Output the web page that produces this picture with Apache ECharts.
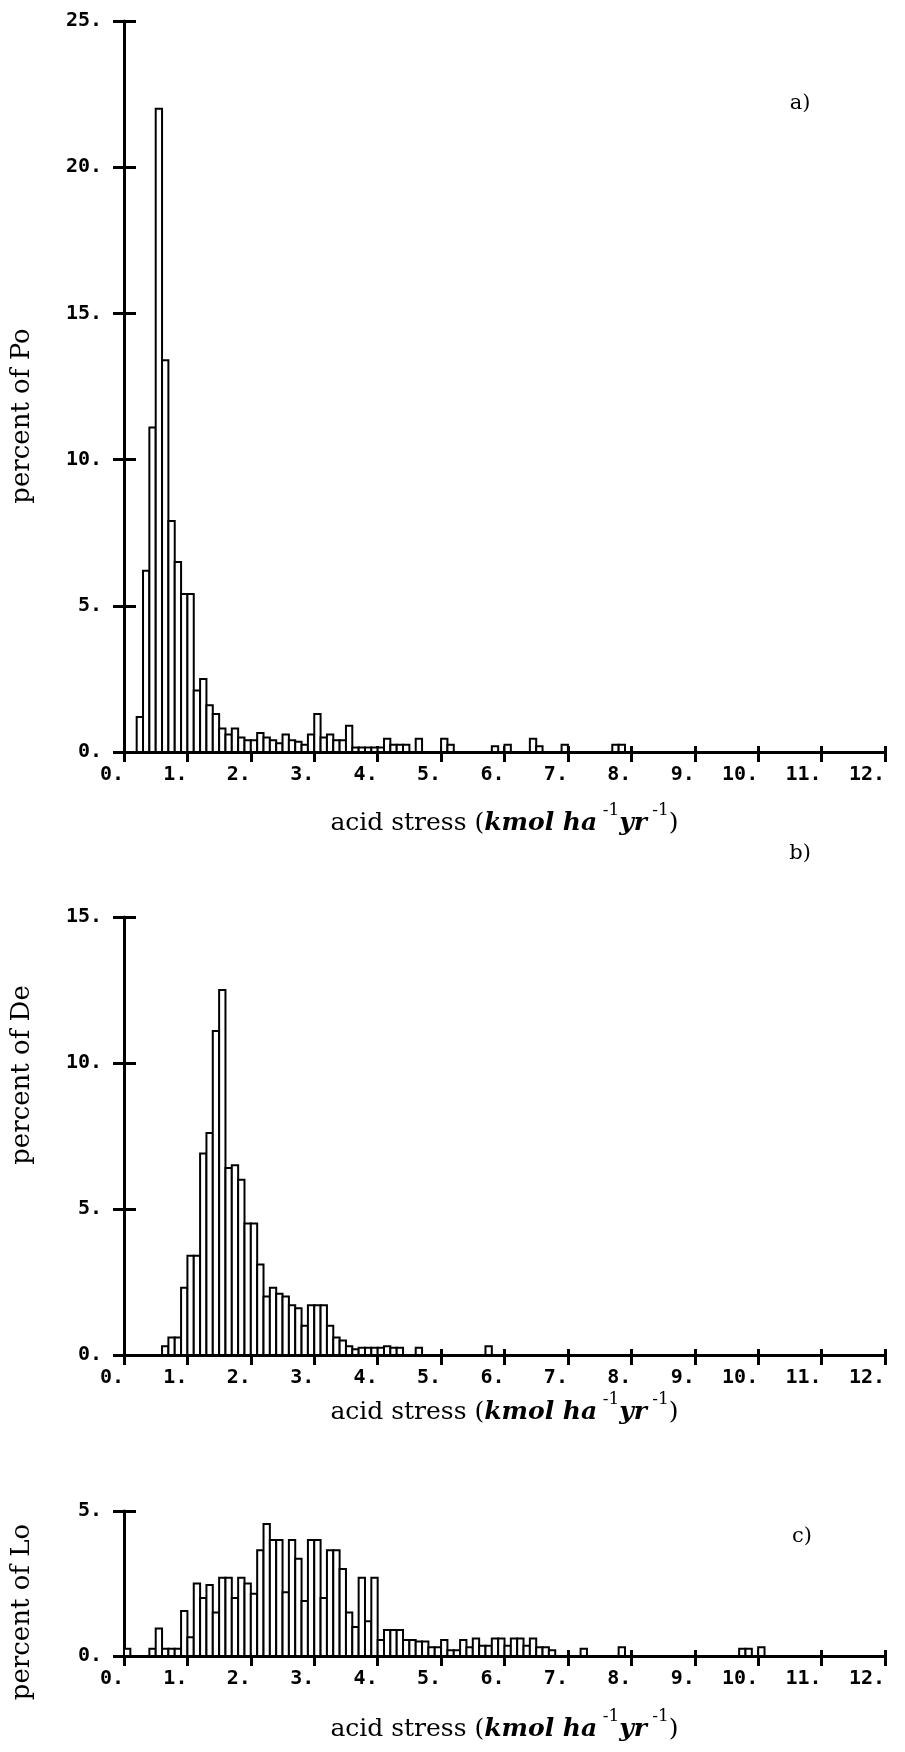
<!DOCTYPE html>
<html><head><meta charset="utf-8">
<script src="https://cdn.jsdelivr.net/npm/echarts@6/dist/echarts.min.js"></script>
<style>html,body{margin:0;padding:0;background:#fff}#c{width:905px;height:1752px}</style>
</head><body><div id="c"></div>
<script>
// ---- data ----
const BIN_WIDTH = 0.1;
const X_MIN = 0, X_MAX = 12, X_STEP = 1;
const xTitle = '{n|acid stress (}{b|kmol ha}{s| -1}{b|yr}{s| -1}{n|)}';
const panelLetters = ['a)', 'b)', 'c)'];
const yNames = ['percent of Po', 'percent of De', 'percent of Lo'];
const yMaxes = [25, 15, 5];
const Y_STEP = 5;

const poBinStart = [0.2,0.3,0.4,0.5,0.6,0.7,0.8,0.9,1.0,1.1,1.2,1.3,1.4,1.5,1.6,1.7,1.8,1.9,2.0,2.1,2.2,2.3,2.4,2.5,2.6,2.7,2.8,2.9,3.0,3.1,3.2,3.3,3.4,3.5,3.6,3.7,3.8,3.9,4.0,4.1,4.2,4.3,4.4,4.6,5.0,5.1,5.8,6.0,6.4,6.5,6.9,7.7,7.8];
const poPercent  = [1.2,6.2,11.1,22.0,13.4,7.9,6.5,5.4,5.4,2.1,2.5,1.6,1.3,0.8,0.6,0.8,0.5,0.4,0.4,0.65,0.5,0.4,0.3,0.6,0.4,0.35,0.25,0.6,1.3,0.5,0.6,0.4,0.4,0.9,0.15,0.15,0.15,0.15,0.15,0.45,0.25,0.25,0.25,0.45,0.45,0.25,0.2,0.25,0.45,0.2,0.25,0.25,0.25];

const deBinStart = [0.6,0.7,0.8,0.9,1.0,1.1,1.2,1.3,1.4,1.5,1.6,1.7,1.8,1.9,2.0,2.1,2.2,2.3,2.4,2.5,2.6,2.7,2.8,2.9,3.0,3.1,3.2,3.3,3.4,3.5,3.6,3.7,3.8,3.9,4.0,4.1,4.2,4.3,4.6,5.7];
const dePercent  = [0.3,0.6,0.6,2.3,3.4,3.4,6.9,7.6,11.1,12.5,6.4,6.5,6.0,4.5,4.5,3.1,2.0,2.3,2.1,2.0,1.7,1.6,1.0,1.7,1.7,1.7,1.0,0.6,0.5,0.3,0.2,0.25,0.25,0.25,0.25,0.3,0.25,0.25,0.25,0.3];

const loBinStart = [0.0,0.4,0.5,0.6,0.7,0.8,0.9,1.0,1.1,1.2,1.3,1.4,1.5,1.6,1.7,1.8,1.9,2.0,2.1,2.2,2.3,2.4,2.5,2.6,2.7,2.8,2.9,3.0,3.1,3.2,3.3,3.4,3.5,3.6,3.7,3.8,3.9,4.0,4.1,4.2,4.3,4.4,4.5,4.6,4.7,4.8,4.9,5.0,5.1,5.2,5.3,5.4,5.5,5.6,5.7,5.8,5.9,6.0,6.1,6.2,6.3,6.4,6.5,6.6,6.7,7.2,7.8,9.7,9.8,10.0];
const loPercent  = [0.25,0.25,0.95,0.25,0.25,0.25,1.55,0.65,2.5,2.0,2.45,1.5,2.7,2.7,2.0,2.7,2.5,2.15,3.65,4.55,4.0,4.0,2.2,4.0,3.35,1.9,4.0,4.0,2.0,3.65,3.65,3.0,1.5,1.0,2.7,1.2,2.7,0.55,0.9,0.9,0.9,0.55,0.55,0.5,0.5,0.3,0.3,0.55,0.2,0.2,0.55,0.3,0.6,0.35,0.35,0.6,0.6,0.35,0.6,0.6,0.35,0.6,0.3,0.3,0.2,0.25,0.3,0.25,0.25,0.3];

// ---- layout / styles ----
const grids = [
  {left: 124, width: 761, top: 21, height: 731},
  {left: 124, width: 761, top: 917, height: 438},
  {left: 124, width: 761, top: 1511, height: 145}
];
const xNameGaps = [50, 36, 52];
const yNamePos = [[22, 416], [22, 1075], [22, 1612]];
const letterPos = [[800, 104], [800, 854], [802, 1537]];
const tickFont = {fontFamily: 'DejaVu Sans Mono', fontWeight: 'bold', fontSize: 20, color: '#000'};
const serif = 'DejaVu Serif';
const AX = {color: '#000', width: 3};

const panels = [[poBinStart, poPercent], [deBinStart, dePercent], [loBinStart, loPercent]];

function renderBin(params, api) {
  const x0 = api.value(0), h = api.value(1);
  const p0 = api.coord([x0, h]);
  const p1 = api.coord([x0 + BIN_WIDTH, 0]);
  return {
    type: 'rect',
    shape: {x: p0[0], y: p0[1], width: p1[0] - p0[0], height: p1[1] - p0[1]},
    style: {fill: '#fff', stroke: '#000', lineWidth: 2}
  };
}

const xAxis = [], yAxis = [], series = [], graphic = [];
grids.forEach((g, i) => {
  xAxis.push({
    type: 'value', gridIndex: i, min: X_MIN, max: X_MAX, interval: X_STEP, position: 'bottom',
    axisLine: {show: true, onZero: false, lineStyle: AX},
    axisTick: {show: true, length: 10, lineStyle: AX},
    axisLabel: Object.assign({align: 'right', margin: 13, formatter: v => v + '.'}, tickFont),
    splitLine: {show: false},
    name: xTitle, nameLocation: 'middle', nameGap: xNameGaps[i],
    nameTextStyle: {
      color: '#000', fontFamily: serif, fontSize: 25,
      rich: {
        n: {fontFamily: serif, fontSize: 25, color: '#000', verticalAlign: 'bottom', lineHeight: 34},
        b: {fontFamily: serif, fontSize: 25, color: '#000', fontStyle: 'italic', fontWeight: 'bold', verticalAlign: 'bottom', lineHeight: 34},
        s: {fontFamily: serif, fontSize: 17, color: '#000', verticalAlign: 'top', lineHeight: 30}
      }
    }
  });
  xAxis.push({
    type: 'value', gridIndex: i, min: X_MIN, max: X_MAX, interval: X_STEP, position: 'bottom',
    axisLine: {show: false}, axisTick: {show: true, inside: true, length: 6, lineStyle: AX},
    axisLabel: {show: false}, splitLine: {show: false}
  });
  yAxis.push({
    type: 'value', gridIndex: i, min: 0, max: yMaxes[i], interval: Y_STEP, position: 'left',
    axisLine: {show: true, onZero: false, lineStyle: AX},
    axisTick: {show: true, length: 11, lineStyle: AX},
    axisLabel: Object.assign({margin: 22, formatter: v => v + '.'}, tickFont),
    splitLine: {show: false}
  });
  yAxis.push({
    type: 'value', gridIndex: i, min: 0, max: yMaxes[i], interval: Y_STEP, position: 'left',
    axisLine: {show: false}, axisTick: {show: true, inside: true, length: 12, lineStyle: AX},
    axisLabel: {show: false}, splitLine: {show: false}
  });
  const [starts, vals] = panels[i];
  series.push({
    type: 'custom', xAxisIndex: 2 * i, yAxisIndex: 2 * i,
    data: starts.map((s, k) => [s, vals[k]]),
    encode: {x: 0, y: 1},
    renderItem: renderBin, silent: true, animation: false
  });
  graphic.push({
    type: 'text', x: yNamePos[i][0], y: yNamePos[i][1], rotation: Math.PI / 2,
    style: {text: yNames[i], font: '26px "DejaVu Serif"', fill: '#000', textAlign: 'center', textVerticalAlign: 'middle'}
  });
  graphic.push({
    type: 'text', x: letterPos[i][0], y: letterPos[i][1],
    style: {text: panelLetters[i], font: '21px "DejaVu Serif"', fill: '#000', textAlign: 'center', textVerticalAlign: 'middle'}
  });
});

const chart = echarts.init(document.getElementById('c'), null, {renderer: 'canvas'});
chart.setOption({
  animation: false,
  backgroundColor: '#fff',
  grid: grids,
  xAxis, yAxis, series, graphic
});
</script>
</body></html>
